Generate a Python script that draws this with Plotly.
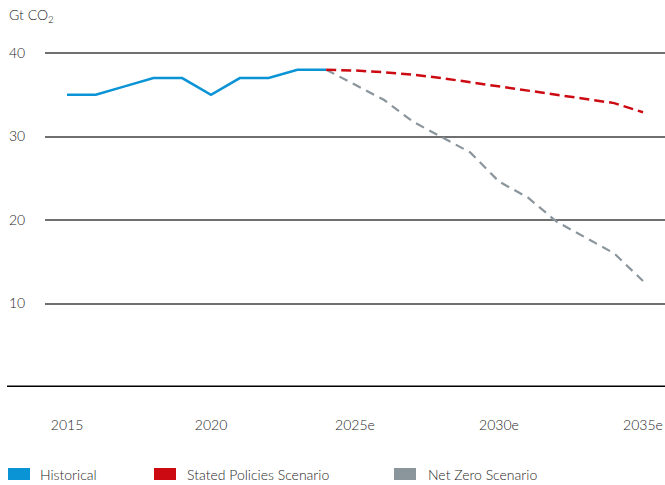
import plotly.graph_objects as go

hist_years = [2015, 2016, 2017, 2018, 2019, 2020, 2021, 2022, 2023, 2024]
hist_vals = [35, 35, 36, 37, 37, 35, 37, 37, 38, 38]

scen_years = [2024, 2025, 2026, 2027, 2028, 2029, 2030, 2031, 2032, 2033, 2034, 2035]
steps_vals = [38, 37.9, 37.7, 37.4, 37.0, 36.5, 36.0, 35.5, 35.0, 34.5, 34.0, 32.9]
nz_vals = [38, 36.2, 34.4, 31.8, 30.0, 28.1, 24.6, 22.7, 19.8, 17.9, 16.0, 12.7]

tick_vals = [2015, 2020, 2025, 2030, 2035]
tick_text = ["2015", "2020", "2025e", "2030e", "2035e"]
y_ticks = [10, 20, 30, 40]

series_names = ["Historical", "Stated Policies Scenario", "Net Zero Scenario"]
colors = ["#0a93d5", "#cc0a12", "#8a959c"]

FONT = "Lato, 'Open Sans', sans-serif"
TXT = "#262626"
FW = 300

W, H = 665, 485
ML, MR, MT, MB = 45, 0, 50, 98
pw = W - ML - MR
ph = H - MT - MB
ytop = 40 + 3 / ((ph - 3) / 40)

fig = go.Figure()
fig.add_trace(go.Scatter(x=hist_years, y=hist_vals, mode="lines", name=series_names[0],
                         line=dict(color=colors[0], width=2.5), showlegend=False))
fig.add_trace(go.Scatter(x=scen_years, y=nz_vals, mode="lines", name=series_names[2],
                         line=dict(color=colors[2], width=2.2, dash="9px,6px"), showlegend=False))
fig.add_trace(go.Scatter(x=scen_years, y=steps_vals, mode="lines", name=series_names[1],
                         line=dict(color=colors[1], width=2.5, dash="10px,5px"), showlegend=False))

shapes = []
# zero baseline
shapes.append(dict(type="line", xref="paper", yref="y", x0=(7 - ML) / pw, x1=1.0, y0=0, y1=0,
                   line=dict(color="#000000", width=3)))

annotations = [dict(text="Gt CO<sub>2</sub>", xref="paper", yref="paper",
                    x=(7 - ML) / pw, y=(H - MB - 15) / ph, xanchor="left", yanchor="middle",
                    showarrow=False, font=dict(family=FONT, size=14, color=TXT, weight=FW))]

# legend
leg_y_px = 474
leg_items = [(8, 38), (154, 185), (394, 426)]
for (bx, tx), name, col in zip(leg_items, series_names, colors):
    x0 = (bx - ML) / pw
    x1 = (bx + 22 - ML) / pw
    y0 = (H - MB - (leg_y_px - 6)) / ph
    y1 = (H - MB - (leg_y_px + 6)) / ph
    shapes.append(dict(type="rect", xref="paper", yref="paper", x0=x0, x1=x1, y0=y0, y1=y1,
                       fillcolor=col, line=dict(width=0)))
    annotations.append(dict(text=name, xref="paper", yref="paper", x=(tx - ML) / pw,
                            y=(H - MB - leg_y_px) / ph, xanchor="left", yanchor="middle",
                            showarrow=False, font=dict(family=FONT, size=14, color=TXT, weight=FW)))

fig.update_layout(
    width=W, height=H,
    margin=dict(l=ML, r=MR, t=MT, b=MB, pad=0),
    plot_bgcolor="white", paper_bgcolor="white",
    font=dict(family=FONT, size=14, color=TXT, weight=FW),
    shapes=shapes, annotations=annotations,
    showlegend=False,
    xaxis=dict(range=[2015 - 22 / 28.8, 2035 + 22 / 28.8], tickvals=tick_vals, ticktext=tick_text,
               showgrid=False, zeroline=False, showline=False, ticks="outside", ticklen=0,
               ticklabelstandoff=25, tickfont=dict(size=14, color=TXT, weight=FW)),
    yaxis=dict(range=[0, ytop], tickvals=y_ticks, showgrid=True, gridcolor="#707070", gridwidth=1.5,
               zeroline=False, showline=False, ticks="outside", ticklen=0, ticklabelstandoff=16,
               tickfont=dict(size=14, color=TXT, weight=FW)),
)

fig.write_html("out.html", config={"displayModeBar": False},
               post_script="document.body.style.margin='0';document.body.style.overflow='hidden';")
